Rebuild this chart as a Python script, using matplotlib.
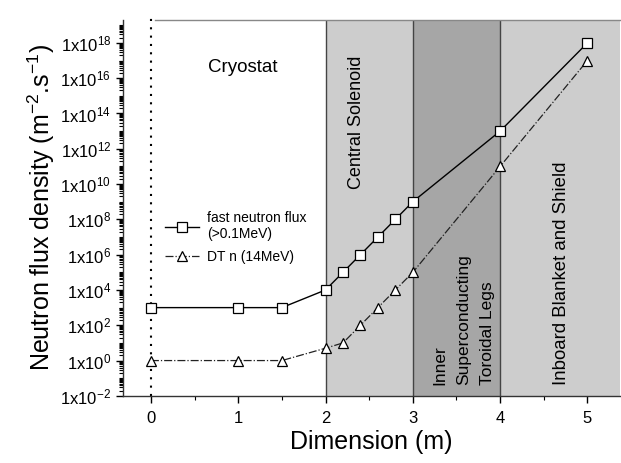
import matplotlib
matplotlib.use('Agg')
import numpy as np
import matplotlib.pyplot as plt
from matplotlib.ticker import FixedLocator, LogLocator, MultipleLocator, NullFormatter

plt.rcParams['font.family'] = ['Liberation Sans', 'DejaVu Sans']
plt.rcParams['mathtext.fontset'] = 'custom'
plt.rcParams['mathtext.rm'] = 'Liberation Sans'
plt.rcParams['mathtext.it'] = 'Liberation Sans'

# data
dist = [0, 1, 1.5, 2, 2.2, 2.4, 2.6, 2.8, 3, 4, 5]
fast_log = [3, 3, 3, 4, 5, 6, 7, 8, 9, 13, 18]
dt_log = [0, 0, 0, 0.7, 1, 2, 3, 4, 5, 11, 17]
fast = 10.0 ** np.array(fast_log)
dt = 10.0 ** np.array(dt_log)

regions = [(2, 3, '#cdcdcd'), (3, 4, '#a6a6a6'), (4, 5.37, '#cdcdcd')]
borders = [2, 3, 4]
ytick_pow = np.arange(-2, 19, 2)
xticks = [0, 1, 2, 3, 4, 5]

fig = plt.figure(figsize=(6.21, 4.63), dpi=100)
ax = fig.add_axes([0.198, 0.145, 0.8, 0.812])
ax.set_xlim(-0.32, 5.37)
ax.set_ylim(1e-2, 10 ** 19.3)
ax.set_yscale('log')

for x0, x1, c in regions:
    ax.axvspan(x0, x1, color=c, lw=0, zorder=0)
for b in borders:
    ax.axvline(b, color='#444444', lw=1.0, zorder=1)
ax.plot([0, 0], [1e-2, 10 ** 19.7], ls=(0, (1, 3)), color='k', lw=1.5,
        clip_on=False, zorder=2)

ax.plot(dist, fast, '-', color='k', lw=1.0, marker='s', ms=6.5, mfc='white',
        mec='k', mew=0.9, zorder=3, label='fast neutron flux\n(>0.1MeV)')
ax.plot(dist, dt, '-.', color='#222222', lw=0.9, marker='^', ms=7.5, mfc='white',
        mec='k', mew=0.9, zorder=3, label='DT n (14MeV)')

ax.text(1.05, 10 ** 16.6, 'Cryostat', fontsize=13.5, ha='center', va='center')
ax.text(2.35, 10 ** 13.5, 'Central Solenoid', fontsize=13, rotation=90,
        ha='center', va='center')
ax.text(3.58, 10 ** -1.4, 'Inner\nSuperconducting\nToroidal Legs', fontsize=12.5,
        rotation=90, ha='center', va='bottom', multialignment='left',
        linespacing=1.75)
ax.text(4.7, 10 ** -1.4, 'Inboard Blanket and Shield', fontsize=13.4, rotation=90,
        ha='center', va='bottom')

leg = ax.legend(loc='upper left', bbox_to_anchor=(0.06, 0.525), frameon=False,
                fontsize=10, handlelength=2.4, handletextpad=0.6, labelspacing=0.6)

ax.yaxis.set_major_locator(FixedLocator(10.0 ** ytick_pow))
ax.set_yticklabels(['1x10$^{%d}$' % p for p in ytick_pow])
ax.yaxis.set_minor_locator(LogLocator(base=10, subs=np.arange(1, 10), numticks=200))
ax.yaxis.set_minor_formatter(NullFormatter())
ax.xaxis.set_major_locator(FixedLocator(xticks))
ax.xaxis.set_minor_locator(MultipleLocator(0.5))

ax.tick_params(axis='both', which='major', direction='out', length=5, width=1.0,
               labelsize=12)
ax.tick_params(axis='both', which='minor', direction='out', length=3, width=0.8)
ax.tick_params(axis='x', pad=6)

for s in ['left', 'bottom']:
    ax.spines[s].set_color('#333333')
    ax.spines[s].set_linewidth(1.0)
ax.spines['top'].set_visible(False)
ax.spines['right'].set_visible(False)
ax.plot([0.05, 5.37], [10 ** 19.3, 10 ** 19.3], color='#888888', lw=1.0,
        clip_on=False, zorder=2)

ax.set_xlabel('Dimension (m)', fontsize=18, labelpad=3)
ax.set_ylabel('Neutron flux density (m$^{-2}$.s$^{-1}$)', fontsize=18, labelpad=2)

fig.savefig('out.png', dpi=100)
